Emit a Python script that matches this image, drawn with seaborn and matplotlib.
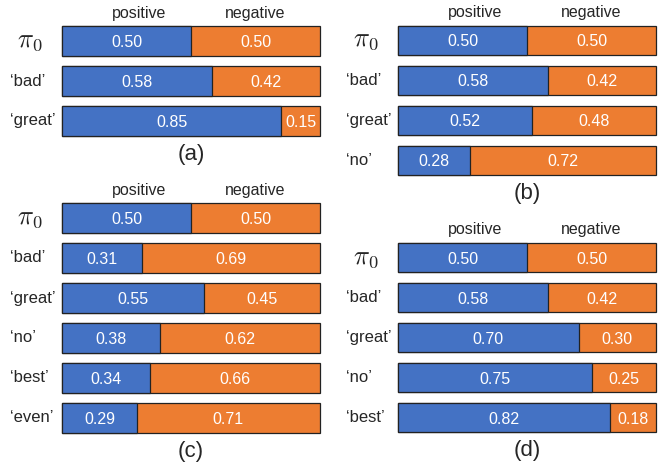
import matplotlib
matplotlib.use('Agg')
import matplotlib.pyplot as plt
import matplotlib.transforms as mtransforms
import seaborn as sns

# Data
labels_a = ['$\\pi_0$', '‘bad’', '‘great’']
pos_a = [0.50, 0.58, 0.85]
neg_a = [0.50, 0.42, 0.15]

labels_b = ['$\\pi_0$', '‘bad’', '‘great’', '‘no’']
pos_b = [0.50, 0.58, 0.52, 0.28]
neg_b = [0.50, 0.42, 0.48, 0.72]

labels_c = ['$\\pi_0$', '‘bad’', '‘great’', '‘no’', '‘best’', '‘even’']
pos_c = [0.50, 0.31, 0.55, 0.38, 0.34, 0.29]
neg_c = [0.50, 0.69, 0.45, 0.62, 0.66, 0.71]

labels_d = ['$\\pi_0$', '‘bad’', '‘great’', '‘no’', '‘best’']
pos_d = [0.50, 0.58, 0.70, 0.75, 0.82]
neg_d = [0.50, 0.42, 0.30, 0.25, 0.18]

headers = ['positive', 'negative']
panel_names = ['(a)', '(b)', '(c)', '(d)']

BLUE = '#4472C4'
ORANGE = '#ED7D31'

sns.set_style('white')
plt.rcParams['font.family'] = ['Liberation Sans', 'DejaVu Sans']
plt.rcParams['mathtext.fontset'] = 'cm'

W, H = 667, 465
fig = plt.figure(figsize=(W / 100, H / 100), dpi=100)

# panel placement in pixels: left, right, center of first row
panels = [
    (labels_a, pos_a, neg_a, 62, 320, 41.0),
    (labels_b, pos_b, neg_b, 398, 656, 40.5),
    (labels_c, pos_c, neg_c, 62, 320, 218.0),
    (labels_d, pos_d, neg_d, 398, 656, 257.5),
]
row = 40.0

for (labels, pos, neg, x0, x1, c0), name in zip(panels, panel_names):
    n = len(labels)
    top = c0 - row / 2
    bottom = top + n * row
    ax = fig.add_axes([x0 / W, 1 - bottom / H, (x1 - x0) / W, n * row / H])

    total = [p + q for p, q in zip(pos, neg)]
    # stacked bars: full bar in orange, positive share in blue on top
    sns.barplot(x=total, y=labels, orient='h', color=ORANGE, saturation=1,
                width=0.74, edgecolor='#222222', linewidth=0.9, ax=ax)
    sns.barplot(x=pos, y=labels, orient='h', color=BLUE, saturation=1,
                width=0.74, edgecolor='#222222', linewidth=0.9, ax=ax)
    for patch in ax.patches:
        patch.set_clip_on(False)

    for i, (p, q) in enumerate(zip(pos, neg)):
        ax.text(p / 2, i, f'{p:.2f}', color='white', ha='center',
                va='center_baseline', fontsize=11.5)
        ax.text(p + q / 2, i, f'{q:.2f}', color='white', ha='center',
                va='center_baseline', fontsize=11.5)

    # row labels, left aligned 52 px before the bars
    trans = mtransforms.blended_transform_factory(ax.transAxes, ax.transData)
    for i, lab in enumerate(labels):
        if 'pi' in lab:
            ax.text(-45 / (x1 - x0), i, lab, transform=trans, ha='left',
                    va='center', fontsize=19)
        else:
            ax.text(-52 / (x1 - x0), i, lab, transform=trans, ha='left',
                    va='center', fontsize=12)

    ax.set_xlim(0, 1)
    ax.set_ylim(n - 0.5, -0.5)
    ax.set_xlabel('')
    ax.set_ylabel('')
    ax.set_xticks([])
    ax.set_yticks([])
    sns.despine(ax=ax, left=True, bottom=True)

    ax.text(0.30, -0.69, headers[0], ha='center', va='center', fontsize=11.5)
    ax.text(0.75, -0.69, headers[1], ha='center', va='center', fontsize=11.5)
    ax.text(0.50, n - 0.5 + 0.33, name, ha='center', va='center', fontsize=16)

fig.savefig('out.png', dpi=100)
